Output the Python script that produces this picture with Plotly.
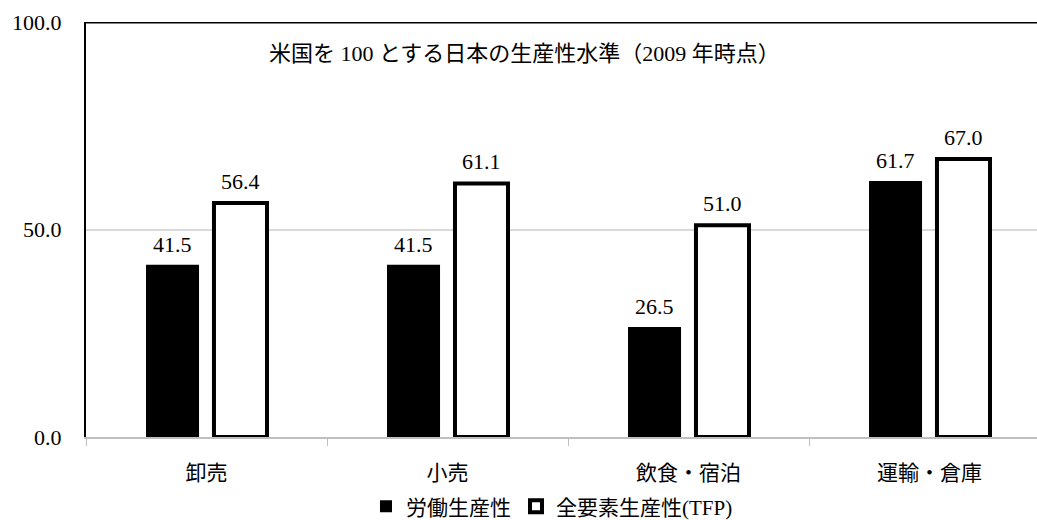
import plotly.graph_objects as go

categories = ["卸売", "小売", "飲食・宿泊", "運輸・倉庫"]
labor_productivity = [41.5, 41.5, 26.5, 61.7]
tfp = [56.4, 61.1, 51.0, 67.0]
series_names = ["労働生産性", "全要素生産性(TFP)"]
y_ticks = [0, 50, 100]
title_text = "米国を 100 とする日本の生産性水準（2009 年時点）"

FONT = "Liberation Serif, Noto Sans CJK JP"
NUM_FONT = "Liberation Serif"
BAR_W = 0.22
OFF_A = -0.251
OFF_B = 0.031

fig = go.Figure()
fig.add_trace(go.Bar(
    x=categories, y=labor_productivity, name=series_names[0],
    width=BAR_W, offset=OFF_A,
    marker=dict(color="#000000", line=dict(width=0)),
))
fig.add_trace(go.Bar(
    x=categories, y=tfp, name=series_names[1],
    width=BAR_W, offset=OFF_B,
    marker=dict(color="#ffffff", line=dict(color="#000000", width=4)),
))

annotations = []
for i, v in enumerate(labor_productivity):
    annotations.append(dict(x=i + OFF_A + BAR_W / 2, y=v, xref="x", yref="y",
                            text=f"{v:.1f}", showarrow=False, yanchor="bottom",
                            yshift=6, font=dict(size=22, color="#000", family=NUM_FONT)))
for i, v in enumerate(tfp):
    annotations.append(dict(x=i + OFF_B + BAR_W / 2, y=v, xref="x", yref="y",
                            text=f"{v:.1f}", showarrow=False, yanchor="bottom",
                            yshift=7, font=dict(size=22, color="#000", family=NUM_FONT)))
annotations.append(dict(x=0.4606, y=0.925, xref="paper", yref="paper", text=title_text,
                        showarrow=False, xanchor="center", yanchor="middle",
                        font=dict(size=22, color="#000", family=FONT)))

fig.update_layout(
    width=1037, height=520,
    margin=dict(l=86, r=0, t=22, b=83, autoexpand=False),
    paper_bgcolor="#ffffff", plot_bgcolor="#ffffff",
    barmode="group",
    showlegend=True,
    legend=dict(orientation="h", x=0.49, xanchor="center", y=-0.168, yanchor="middle",
                font=dict(size=21, color="#000", family=FONT),
                traceorder="normal", itemwidth=30),
    annotations=annotations,
    font=dict(family=FONT, color="#000"),
    shapes=[dict(type="line", xref="paper", yref="y", x0=0, x1=1, y0=100, y1=100,
                 line=dict(color="#000000", width=3))],
)
fig.update_xaxes(
    type="category", range=[-0.5, 3.446], tickson="boundaries",
    ticks="outside", ticklen=7, tickcolor="#bfbfbf", tickwidth=1,
    showline=True, linecolor="#bfbfbf", linewidth=2,
    showgrid=False, ticklabelstandoff=16,
    tickfont=dict(size=21, color="#000", family=FONT),
)
fig.update_yaxes(
    range=[0, 100], tickvals=y_ticks, tickformat=".1f",
    showgrid=True, gridcolor="#d9d9d9", gridwidth=1.5,
    zeroline=False, showline=True, linecolor="#000000", linewidth=2,
    ticks="", ticklabelstandoff=18,
    tickfont=dict(size=22, color="#000", family=NUM_FONT),
)

fig.write_html("out.html")
